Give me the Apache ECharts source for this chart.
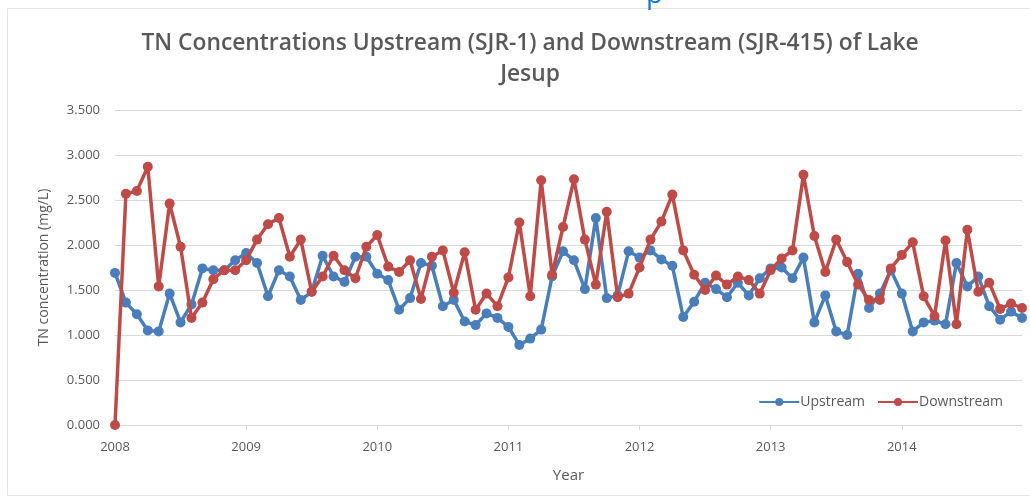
<!DOCTYPE html>
<html>
<head>
<meta charset="utf-8">
<title>TN Concentrations - Lake Jesup</title>
<script src="https://cdn.jsdelivr.net/npm/echarts@6/dist/echarts.min.js"></script>
<style>
  html, body { margin: 0; padding: 0; background: #ffffff; }
  #chart { width: 1030px; height: 501px; }
</style>
</head>
<body>
<div id="chart"></div>
<script>
// Monthly sampling, Jan 2008 - Dec 2014
const years = ['2008', '2009', '2010', '2011', '2012', '2013', '2014'];
const months = ['01', '02', '03', '04', '05', '06', '07', '08', '09', '10', '11', '12'];
const categories = [];
years.forEach(y => months.forEach(m => categories.push(y + '-' + m)));

// TN concentration (mg/L), SJR-1 (upstream of the lake)
const upstream = [
  1.69, 1.36, 1.23, 1.05, 1.04, 1.46, 1.14, 1.34, 1.74, 1.72, 1.72, 1.83,
  1.91, 1.80, 1.43, 1.72, 1.65, 1.39, 1.48, 1.88, 1.65, 1.59, 1.87, 1.87,
  1.68, 1.61, 1.28, 1.41, 1.80, 1.77, 1.32, 1.39, 1.15, 1.11, 1.24, 1.19,
  1.09, 0.89, 0.96, 1.06, 1.65, 1.93, 1.83, 1.51, 2.30, 1.41, 1.44, 1.93,
  1.86, 1.94, 1.84, 1.77, 1.20, 1.37, 1.58, 1.51, 1.42, 1.58, 1.44, 1.63,
  1.74, 1.75, 1.63, 1.86, 1.14, 1.44, 1.04, 1.00, 1.68, 1.30, 1.46, 1.72,
  1.46, 1.04, 1.14, 1.16, 1.12, 1.80, 1.54, 1.65, 1.32, 1.17, 1.26, 1.19
];

// TN concentration (mg/L), SJR-415 (downstream of the lake)
const downstream = [
  0.00, 2.57, 2.60, 2.87, 1.54, 2.46, 1.98, 1.19, 1.36, 1.62, 1.72, 1.72,
  1.83, 2.06, 2.23, 2.30, 1.87, 2.06, 1.48, 1.65, 1.88, 1.72, 1.63, 1.98,
  2.11, 1.76, 1.70, 1.83, 1.40, 1.87, 1.94, 1.47, 1.92, 1.28, 1.46, 1.32,
  1.64, 2.25, 1.43, 2.72, 1.67, 2.20, 2.73, 2.06, 1.56, 2.37, 1.42, 1.46,
  1.75, 2.06, 2.26, 2.56, 1.94, 1.67, 1.50, 1.66, 1.56, 1.65, 1.61, 1.46,
  1.72, 1.85, 1.94, 2.78, 2.10, 1.70, 2.06, 1.81, 1.56, 1.39, 1.39, 1.74,
  1.89, 2.03, 1.43, 1.21, 2.05, 1.12, 2.17, 1.48, 1.58, 1.29, 1.35, 1.30
];

const yTicks = { min: 0, max: 3.5, step: 0.5 };

const textGray = '#595959';
const gridGray = '#D9D9D9';
const blue = '#4A7EBB';
const red = '#BE4B48';
const font = 'Open Sans';

const chart = echarts.init(document.getElementById('chart'), null, { renderer: 'canvas' });

chart.setOption({
  backgroundColor: '#ffffff',
  animation: false,
  title: {
    text: 'TN Concentrations Upstream (SJR-1) and Downstream (SJR-415) of Lake\nJesup',
    left: 525,
    textAlign: 'center',
    top: 23,
    textStyle: {
      color: textGray,
      fontFamily: font,
      fontWeight: 600,
      fontSize: 22.8,
      lineHeight: 31
    }
  },
  graphic: [
    {
      type: 'rect',
      shape: { x: 7.5, y: 8.5, width: 1040, height: 487 },
      style: { fill: 'none', stroke: '#E3E3E3', lineWidth: 1 },
      silent: true
    },
    {
      type: 'text',
      left: 646,
      top: -19,
      style: { text: 'p', fill: '#1A75CF', font: '28px "Open Sans"' },
      silent: true
    }
  ],
  legend: {
    right: 22,
    top: 390,
    itemWidth: 40,
    itemHeight: 10,
    itemGap: 12,
    textStyle: { color: textGray, fontFamily: font, fontSize: 14, padding: [0, 0, 0, -4] },
    data: ['Upstream', 'Downstream']
  },
  grid: {
    left: 115,
    right: 8,
    top: 110,
    bottom: 76,
    containLabel: false
  },
  xAxis: {
    type: 'category',
    data: categories,
    boundaryGap: false,
    name: 'Year',
    nameLocation: 'middle',
    nameGap: 43,
    nameTextStyle: { color: textGray, fontFamily: font, fontSize: 15 },
    axisLine: { lineStyle: { color: gridGray, width: 1 } },
    axisTick: { show: true, interval: 11, length: 5, lineStyle: { color: gridGray } },
    axisLabel: {
      interval: 11,
      color: textGray,
      fontFamily: font,
      fontSize: 13,
      margin: 16,
      formatter: v => v.slice(0, 4)
    },
    splitLine: { show: false }
  },
  yAxis: {
    type: 'value',
    min: yTicks.min,
    max: yTicks.max,
    interval: yTicks.step,
    name: 'TN concentration (mg/L)',
    nameLocation: 'middle',
    nameGap: 64,
    nameTextStyle: { color: textGray, fontFamily: font, fontSize: 14 },
    axisLine: { show: false },
    axisTick: { show: false },
    axisLabel: {
      color: textGray,
      fontFamily: font,
      fontSize: 13,
      margin: 15,
      formatter: v => v.toFixed(3)
    },
    splitLine: { lineStyle: { color: gridGray, width: 1 } }
  },
  series: [
    {
      name: 'Upstream',
      type: 'line',
      data: upstream,
      symbol: 'circle',
      symbolSize: 10,
      showAllSymbol: true,
      lineStyle: { color: blue, width: 3.5 },
      itemStyle: { color: blue },
      z: 2
    },
    {
      name: 'Downstream',
      type: 'line',
      data: downstream,
      symbol: 'circle',
      symbolSize: 10,
      showAllSymbol: true,
      lineStyle: { color: red, width: 3.5 },
      itemStyle: { color: red },
      z: 3
    }
  ]
});
</script>
</body>
</html>
